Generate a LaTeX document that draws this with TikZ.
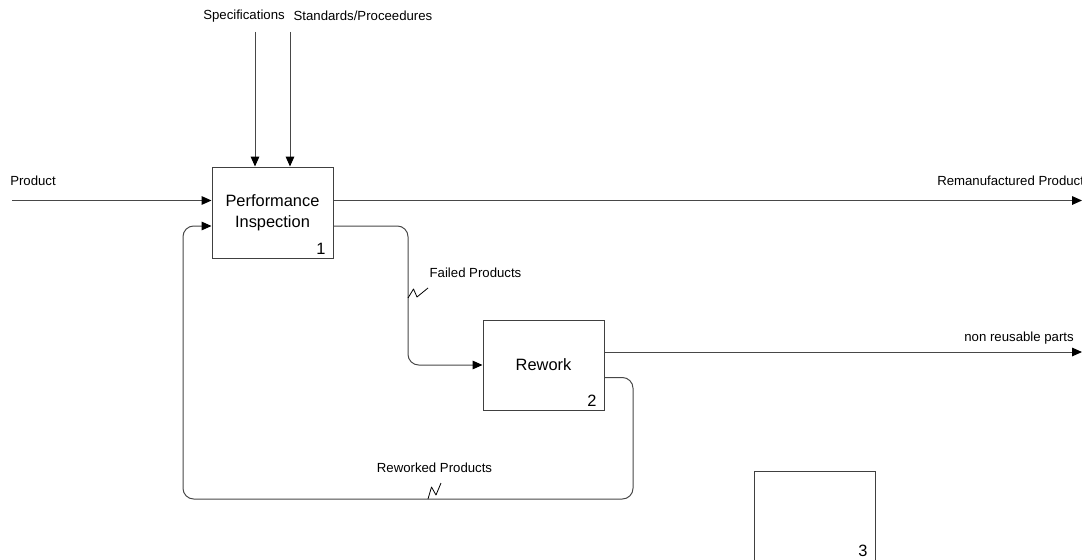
\documentclass[tikz,border=0pt]{standalone}
\usepackage{fontspec}
\setmainfont{Liberation Sans}
\usetikzlibrary{arrows.meta,calc}
\begin{document}
\begin{tikzpicture}[x=0.75pt,y=-0.75pt,
  flow/.style={draw=black!72, line width=0.75pt, rounded corners=8pt,
    -{Triangle[length=7.5pt,width=6.5pt,color=black]}},
  actbox/.style={draw=black!75, line width=0.75pt, rectangle, inner sep=0pt,
    minimum width=90.75pt, minimum height=68.25pt,
    font=\fontsize{12.3}{15.75}\selectfont, align=center},
  lbl/.style={font=\fontsize{9.9}{12}\selectfont, inner sep=0pt},
  num/.style={font=\fontsize{12.3}{14}\selectfont, inner sep=0pt},
  squig/.style={draw=black, line width=0.6pt, line join=round}]
\useasboundingbox (0,0) rectangle (1082,560);
\clip (0,0) rectangle (1082,560);

% activity boxes
\node[actbox] (inspect) at (272.5,212.5) {Performance\\Inspection};
\node[actbox, minimum height=67.5pt] (rework) at (543.5,365) {Rework};
\node[actbox] (blank) at (814.5,516.5) {};

% box numbers
\node[num] (n1) at (321,249) {1};
\node[num] (n2) at (592,401) {2};
\node[num] (n3) at (863,551) {3};

% controls from above
\coordinate (spec0) at (255,32);
\coordinate (std0) at (290,32);
\node[lbl] (lspec) at (244,16.5) {Specifications};
\node[lbl] (lstd) at (363,16) {Standards/Proceedures};
\draw[flow] (spec0) -- (spec0 |- inspect.north);
\draw[flow] (std0) -- (std0 |- inspect.north);

% main input and output
\coordinate (pin) at (12,200.5);
\coordinate (pout) at (1082,200.5);
\node[lbl, anchor=west] (lprod) at (10,181) {Product};
\node[lbl, anchor=west] (lreman) at (937,181) {Remanufactured Product};
\draw[flow] (pin) -- (inspect.west |- pin);
\draw[flow] (inspect.east |- pout) -- (pout);

% failed products to rework
\coordinate (fout) at ($(inspect.east)+(0,13.5)$);
\draw[flow] (fout) -- (408,226) -- (408,365) -- (rework.west);
\node[lbl] (lfail) at (475.5,273) {Failed Products};
\draw[squig] (408,298) -- (413.5,289) -- (417,297) -- (428,288);

% non reusable parts
\coordinate (nout) at (1082,352);
\node[lbl, anchor=east] (lnon) at (1074,338) {non reusable parts};
\draw[flow] (rework.east |- nout) -- (nout);

% reworked products back to inspection
\coordinate (rwout) at ($(rework.east)+(0,12.5)$);
\coordinate (fbin) at ($(inspect.west)+(0,13.5)$);
\draw[flow] (rwout) -- (633,377.5) -- (633,499) -- (183,499) -- (183,226) -- (fbin);
\node[lbl] (lrw) at (434.5,468) {Reworked Products};
\draw[squig] (428,499) -- (431.5,487) -- (436,495) -- (441,483);
\end{tikzpicture}
\end{document}
